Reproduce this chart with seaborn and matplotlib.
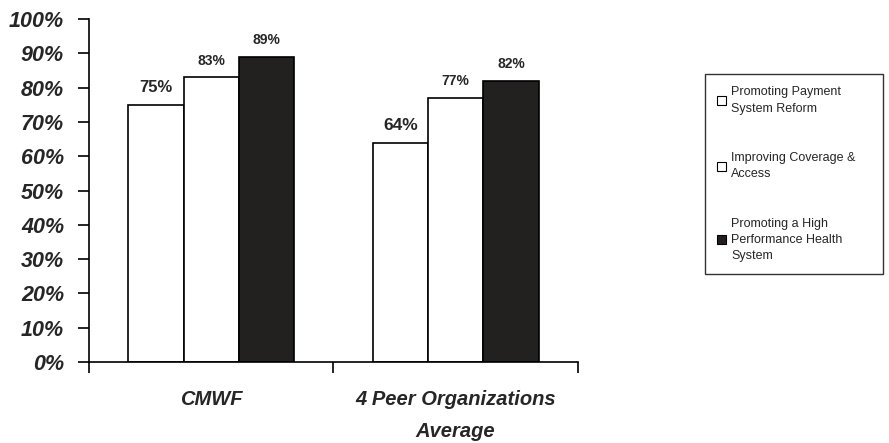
import pandas as pd
import numpy as np
import seaborn as sns
import matplotlib.pyplot as plt
from matplotlib.ticker import FixedLocator, PercentFormatter
from matplotlib.patches import Patch

# 数据
groups = ['CMWF', '4 Peer Organizations\nAverage']
series = ['Promoting Payment\nSystem Reform',
          'Improving Coverage &\nAccess',
          'Promoting a High\nPerformance Health\nSystem']
payment_reform = [75, 64]
coverage_access = [83, 77]
high_performance = [89, 82]
bar_colors = ['white', 'white', '#231f20']

df = pd.DataFrame({
    'group': groups * 3,
    'series': [series[0]] * 2 + [series[1]] * 2 + [series[2]] * 2,
    'value': payment_reform + coverage_access + high_performance,
})

sns.set_theme(style='white')
plt.rcParams['font.family'] = ['Liberation Sans', 'DejaVu Sans']

fig = plt.figure(figsize=(8.89, 4.43), dpi=100)
ax = fig.add_axes([0.1001, 0.1828, 0.5500, 0.7742])

sns.barplot(data=df, x='group', y='value', hue='series', hue_order=series,
            palette=bar_colors, edgecolor='black', linewidth=1.2,
            width=0.68, ax=ax, legend=False)

ax.set_ylim(0, 100)
ax.set_xlim(-0.5, 1.5)
ax.set_yticks(np.arange(0, 101, 10))
ax.yaxis.set_major_formatter(PercentFormatter(decimals=0))
ax.set_xlabel('')
ax.set_ylabel('')

for lab in ax.get_yticklabels():
    lab.set_fontsize(15.5)
    lab.set_fontweight('heavy')
    lab.set_fontstyle('italic')
for lab in ax.get_xticklabels():
    lab.set_fontsize(14.5)
    lab.set_fontweight('heavy')
    lab.set_fontstyle('italic')
    lab.set_linespacing(1.9)

ax.tick_params(axis='y', which='major', direction='out', length=8, width=1.2,
               color='black', left=True, pad=10)
ax.tick_params(axis='x', which='major', length=0, pad=20)
ax.xaxis.set_minor_locator(FixedLocator([-0.5, 0.5, 1.5]))
ax.tick_params(axis='x', which='minor', direction='out', length=8, width=1.2,
               color='black', bottom=True)

sns.despine(ax=ax)
for sp in ['left', 'bottom']:
    ax.spines[sp].set_color('black')
    ax.spines[sp].set_linewidth(1.2)

# 数值标签
label_sizes = [[12, 12.5], [10, 10], [10, 10]]
for i, cont in enumerate(ax.containers):
    texts = ax.bar_label(cont, fmt='%d%%', padding=7)
    for j, t in enumerate(texts):
        t.set_fontsize(label_sizes[i][j])
        t.set_fontweight('bold')

# 图例
handles = [Patch(facecolor=c, edgecolor='black', linewidth=0.8) for c in bar_colors]
leg = fig.legend(handles, series, loc='upper left',
                 bbox_to_anchor=(0.793, 0.368, 0.200, 0.465), mode='expand',
                 frameon=True, fontsize=9, handlelength=0.7, handleheight=0.7,
                 handletextpad=0.4, labelspacing=3.0, borderpad=1.0,
                 borderaxespad=0, fancybox=False, edgecolor='black')
leg.get_frame().set_linewidth(1.0)
for t in leg.get_texts():
    t.set_linespacing(1.45)

fig.savefig('out.png', dpi=100)
